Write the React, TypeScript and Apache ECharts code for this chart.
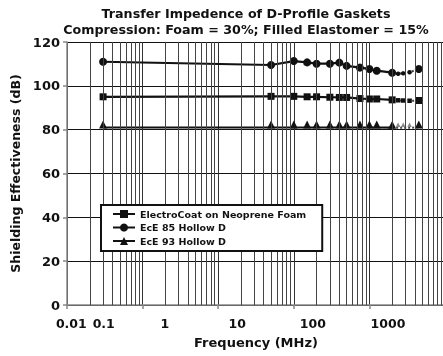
import React, { useEffect, useRef } from 'react';
import * as echarts from 'echarts';

const titleLines = ['Transfer Impedence of D-Profile Gaskets', 'Compression: Foam = 30%; Filled Elastomer = 15%'];
const seriesNames = ['ElectroCoat on Neoprene Foam', 'EcE 85 Hollow D', 'EcE 93 Hollow D'];

// frequencies (MHz)
const freqMain = [0.3, 50, 100, 150, 200, 300, 400, 500, 750, 1000, 1250, 2000];
const freqTail = [2000, 2400, 2800, 3400, 4500];

// shielding effectiveness (dB)
const electroCoatMain = [95.0, 95.2, 95.2, 95.0, 95.0, 94.8, 94.7, 94.7, 94.2, 94.0, 94.0, 93.6];
const electroCoatTail = [93.6, 93.4, 93.3, 93.2, 93.3];
const ece85Main = [111.0, 109.5, 111.3, 110.7, 110.1, 110.1, 110.6, 109.1, 108.3, 107.7, 106.9, 106.0];
const ece85Tail = [106.0, 105.5, 105.7, 106.2, 107.7];
const ece93Main = [81.0, 81.0, 81.0, 81.0, 81.0, 81.0, 81.0, 81.0, 81.0, 81.0, 81.0, 80.9];
const ece93Tail = [80.9, 80.9, 80.9, 80.9, 81.0];

// x tick labels and where they sit on the log axis
const xTickLabels = ['0.01', '0.1', '1', '10', '100', '1000'];
const xTickLabelAt = [0.114, 0.306, 1.97, 17.9, 179, 1760];

// minor log grid
const gridDecades = [0.1, 1, 10, 100, 1000];
const gridMultipliers = [2, 3, 4, 5, 6, 7, 8, 9];

const FONT = '"DejaVu Sans", "Liberation Sans", Arial, sans-serif';
const INK = '#111';

export default function App() {
  const ref = useRef<HTMLDivElement>(null);

  useEffect(() => {
    if (!ref.current) return;
    const chart = echarts.init(ref.current, undefined, { renderer: 'svg' });

    const minorLines: { xAxis: number }[] = [];
    gridDecades.forEach((d) => gridMultipliers.forEach((m) => minorLines.push({ xAxis: d * m })));

    const mainSeries = (name: string, vals: number[], symbol: string, size: number, offset?: number[]) => ({
      type: 'line',
      name,
      xAxisIndex: 0,
      yAxisIndex: 0,
      data: freqMain.map((f, i) => [f, vals[i]]),
      symbol,
      symbolSize: size,
      symbolOffset: offset || [0, 0],
      showSymbol: true,
      lineStyle: { color: INK, width: 2.2 },
      itemStyle: { color: INK },
      z: 3,
      silent: true,
    });

    const tailSeries = (name: string, vals: number[], symbol: string, size: number, smallColor: string, offset?: number[]) => ({
      type: 'line',
      name: name + ' (tail)',
      xAxisIndex: 0,
      yAxisIndex: 0,
      data: freqTail.map((f, i) => ({
        value: [f, vals[i]],
        symbolSize: i === 0 ? 0 : i === freqTail.length - 1 ? size : 4.5,
        itemStyle: { color: i === freqTail.length - 1 ? INK : smallColor },
      })),
      symbol,
      symbolOffset: offset || [0, 0],
      lineStyle: { color: '#444', width: 2, type: [2, 2] },
      itemStyle: { color: INK },
      z: 3,
      silent: true,
    });

    chart.setOption({
      animation: false,
      title: {
        text: titleLines.join('\n'),
        left: 246,
        top: 5.5,
        textAlign: 'center',
        padding: 0,
        textStyle: { fontSize: 12.7, fontWeight: 'bold', lineHeight: 16.3, fontFamily: FONT, color: '#111' },
      },
      grid: { left: 67, top: 42, width: 378, height: 263, containLabel: false, outerBoundsMode: 'none' },
      legend: {
        data: seriesNames,
        orient: 'vertical',
        left: 101,
        top: 205,
        z: 20,
        itemWidth: 22,
        itemHeight: 10,
        itemGap: 3.5,
        padding: [4, 16, 5, 11],
        backgroundColor: '#fff',
        borderColor: '#111',
        borderWidth: 2,
        borderRadius: 0,
        selectedMode: false,
        textStyle: { fontSize: 9.5, fontWeight: 'bold', fontFamily: FONT, color: '#111' },
      },
      xAxis: [
        {
          type: 'log',
          logBase: 10,
          min: 0.1,
          max: 10000,
          gridIndex: 0,
          position: 'bottom',
          name: 'Frequency (MHz)',
          nameLocation: 'middle',
          nameGap: 31,
          nameTextStyle: { fontSize: 13, fontWeight: 'bold', fontFamily: FONT, color: '#111' },
          axisLine: { show: true, lineStyle: { color: '#888', width: 1.5 } },
          axisTick: { show: true, length: 4, lineStyle: { color: '#888', width: 1.5 } },
          axisLabel: { show: false },
          splitLine: { show: true, lineStyle: { color: '#333', width: 1 } },
        },
        {
          type: 'log',
          logBase: 10,
          min: 0.1,
          max: 10000,
          gridIndex: 0,
          position: 'bottom',
          axisLine: { show: false },
          axisTick: { show: false },
          splitLine: { show: false },
          axisLabel: {
            show: true,
            customValues: xTickLabelAt,
            margin: 12,
            fontSize: 12.5,
            fontWeight: 'bold',
            fontFamily: FONT,
            color: '#111',
            formatter: (v: number) => {
              let best = 0;
              let bd = Infinity;
              xTickLabelAt.forEach((p, i) => {
                const d = Math.abs(Math.log10(p) - Math.log10(v));
                if (d < bd) {
                  bd = d;
                  best = i;
                }
              });
              return xTickLabels[best];
            },
          },
        },
      ],
      yAxis: {
        type: 'value',
        min: 0,
        max: 120,
        interval: 20,
        name: 'Shielding Effectiveness (dB)',
        nameLocation: 'middle',
        nameGap: 39,
        nameTextStyle: { fontSize: 12.5, fontWeight: 'bold', fontFamily: FONT, color: '#111' },
        axisLine: { show: true, lineStyle: { color: '#888', width: 1.5 } },
        axisTick: { show: true, length: 4, lineStyle: { color: '#888', width: 1.5 } },
        axisLabel: { fontSize: 13, fontWeight: 'bold', fontFamily: FONT, color: '#111', margin: 7 },
        splitLine: { show: true, lineStyle: { color: '#111', width: 1 } },
      },
      series: [
        {
          type: 'line',
          name: 'minor-grid',
          xAxisIndex: 0,
          yAxisIndex: 0,
          data: [],
          z: 1,
          silent: true,
          markLine: {
            silent: true,
            symbol: 'none',
            label: { show: false },
            emphasis: { disabled: true },
            lineStyle: { color: '#444', width: 1, type: 'solid' },
            data: minorLines,
          },
        },
        mainSeries(seriesNames[0], electroCoatMain, 'rect', 7),
        mainSeries(seriesNames[1], ece85Main, 'circle', 8),
        mainSeries(seriesNames[2], ece93Main, 'triangle', 8, [0, -3]),
        tailSeries(seriesNames[0], electroCoatTail, 'rect', 7, INK),
        tailSeries(seriesNames[1], ece85Tail, 'circle', 8, INK),
        tailSeries(seriesNames[2], ece93Tail, 'triangle', 8, '#888', [0, -3]),
      ],
    });

    return () => chart.dispose();
  }, []);

  return <div ref={ref} style={{ position: 'fixed', left: 0, top: 0, width: 443, height: 356 }} />;
}
